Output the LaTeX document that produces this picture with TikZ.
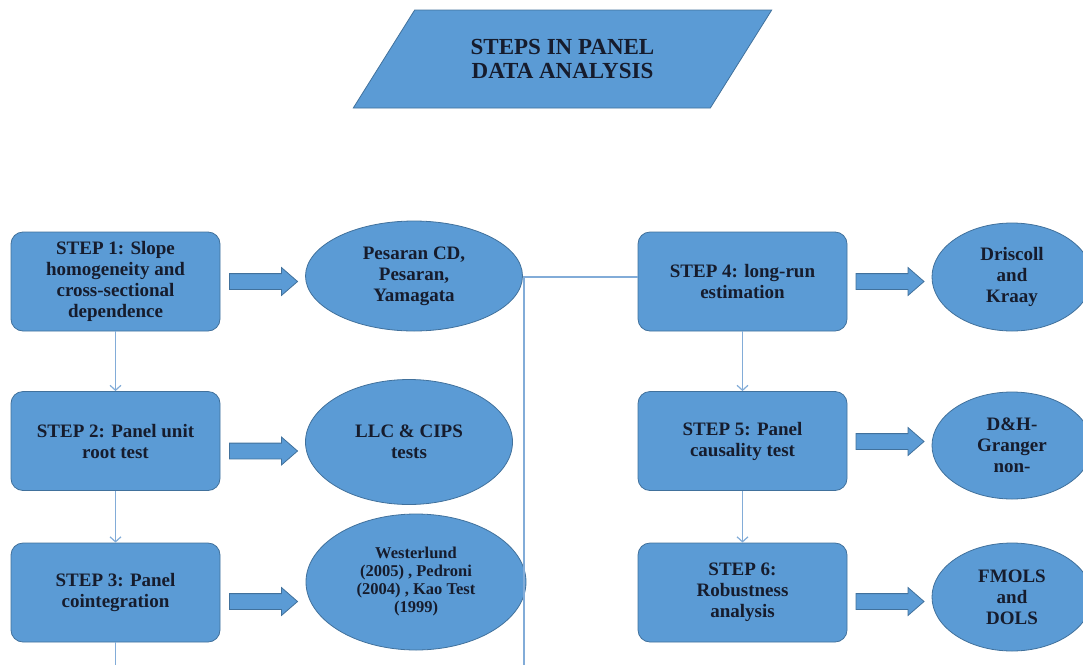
\documentclass[tikz,border=0pt]{standalone}
\usepackage{fontspec}
\setmainfont{Liberation Serif}
\usetikzlibrary{arrows.meta, positioning, shapes.geometric, shapes.arrows}
\definecolor{boxblue}{RGB}{91,155,213}
\definecolor{edgeblue}{RGB}{65,113,156}
\definecolor{linkblue}{RGB}{130,172,216}
\definecolor{inkdark}{RGB}{22,28,45}
\begin{document}
\begin{tikzpicture}[x=1pt, y=-1pt,
  stepbox/.style={draw=edgeblue, fill=boxblue, line width=0.8pt, rounded corners=12pt, minimum width=209pt, minimum height=99pt, align=center, text=inkdark, font=\fontsize{19}{21}\selectfont\bfseries},
  methodell/.style={ellipse, draw=edgeblue, fill=boxblue, line width=0.8pt, inner sep=0pt, align=center, text=inkdark, font=\fontsize{19}{21}\selectfont\bfseries},
  blockarr/.style={single arrow, draw=edgeblue, fill=boxblue, line width=0.8pt, inner xsep=0pt, inner ysep=7.5pt, minimum height=68pt, single arrow head extend=6pt, single arrow tip angle=82},
  flowline/.style={linkblue, line width=1.2pt, -{Straight Barb[length=5pt, width=11pt]}},
  linkline/.style={linkblue, line width=1.2pt}]
  \useasboundingbox (0,0) rectangle (1083,664);
  \clip (0,0) rectangle (1083,664);

  % title
  \node[trapezium, trapezium left angle=49.4, trapezium right angle=130.6, trapezium stretches=true, minimum width=419pt, minimum height=98pt, draw=edgeblue, fill=boxblue, line width=0.8pt, align=center, text=inkdark, font=\fontsize{23}{24}\selectfont\bfseries] (title) at (562.5,59) {STEPS IN PANEL\\DATA ANALYSIS};

  % left column
  \node[stepbox] (s1) at (115.5,281.5) {STEP 1: Slope\\homogeneity and\\cross-sectional\\dependence};
  \node[stepbox] (s2) at (115.5,441) {STEP 2: Panel unit\\root test};
  \node[stepbox] (s3) at (115.5,592.5) {STEP 3: Panel\\cointegration};

  \node[methodell, minimum width=217pt, minimum height=110pt] (m1) at (414,276) {Pesaran CD,\\Pesaran,\\Yamagata};
  \node[methodell, minimum width=207pt, minimum height=125pt] (m2) at (409,442) {LLC \& CIPS\\tests};
  \node[methodell, minimum width=220pt, minimum height=136pt, font=\fontsize{16.5}{18}\selectfont\bfseries] (m3) at (416,582) {Westerlund\\(2005) , Pedroni\\(2004) , Kao Test\\(1999)};

  \node[blockarr] (a1) at (259,281.5) {};
  \node[blockarr] (a2) at (259,451) {};
  \node[blockarr] (a3) at (259,601.5) {};

  % right column
  \node[stepbox] (s4) at (742.5,281.5) {STEP 4: long-run\\estimation};
  \node[stepbox] (s5) at (742.5,441) {STEP 5: Panel\\causality test};
  \node[stepbox] (s6) at (742.5,592.5) {STEP 6:\\Robustness\\analysis};

  \node[methodell, minimum width=160pt, minimum height=108pt] (m4) at (1012,277) {Driscoll\\and\\Kraay};
  \node[methodell, minimum width=160pt, minimum height=107pt] (m5) at (1012,445.5) {D\&H-\\Granger\\non-};
  \node[methodell, minimum width=160pt, minimum height=108pt] (m6) at (1012,597) {FMOLS\\and\\DOLS};

  \node[blockarr] (a4) at (885.5,281.5) {};
  \node[blockarr] (a5) at (885.5,441.5) {};
  \node[blockarr] (a6) at (885.5,601.5) {};

  % links
  \coordinate (s3out) at (115.5,670);
  \coordinate (bus) at (524,670);
  \draw[flowline] (s1) -- (s2);
  \draw[flowline] (s2) -- (s3);
  \draw[linkline] (s3) -- (s3out);
  \draw[linkline] (bus) |- ([yshift=4.5pt]s4.west);
  \draw[flowline] (s4) -- (s5);
  \draw[flowline] (s5) -- (s6);
\end{tikzpicture}
\end{document}
